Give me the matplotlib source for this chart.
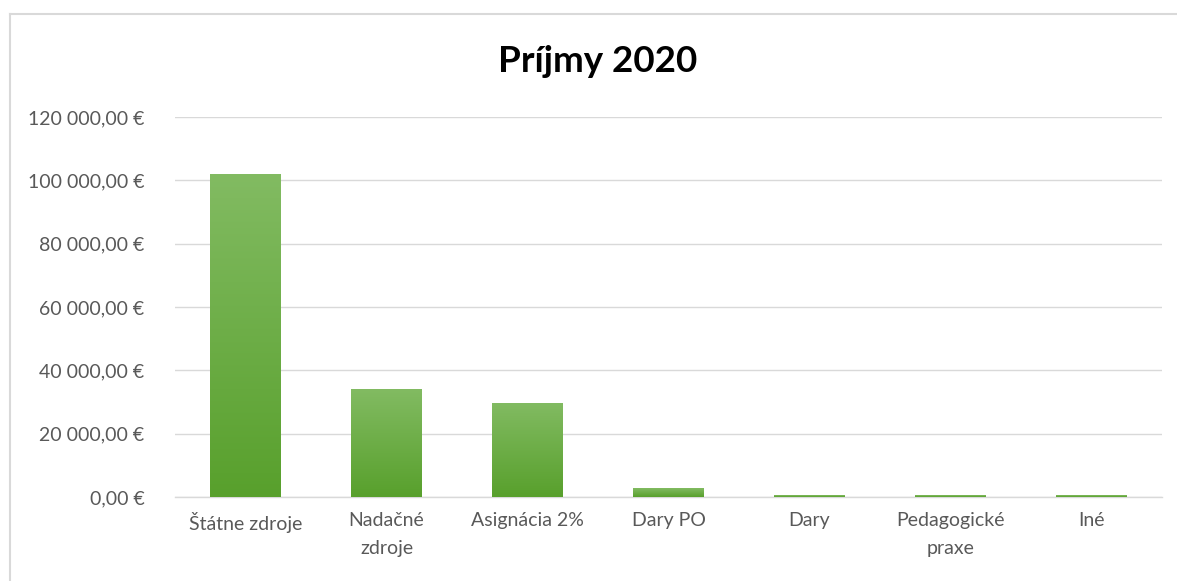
import matplotlib
matplotlib.use("Agg")
import matplotlib.pyplot as plt
import numpy as np
from matplotlib.colors import LinearSegmentedColormap
from matplotlib.lines import Line2D
from matplotlib.ticker import FuncFormatter

categories = ["Štátne zdroje", "Nadačné\nzdroje", "Asignácia 2%", "Dary PO",
              "Dary", "Pedagogické\npraxe", "Iné"]
values = [101900, 34100, 29700, 2700, 600, 550, 550]
y_ticks = [0, 20000, 40000, 60000, 80000, 100000, 120000]

plt.rcParams["font.family"] = ["Lato", "DejaVu Sans"]


def euro(value, _pos=None):
    whole = f"{value:,.2f}".replace(",", " ").replace(".", ",")
    return f"{whole} €"


fig = plt.figure(figsize=(11.77, 5.81), dpi=100)
ax = fig.add_axes([175 / 1177, 1 - 497 / 581, (1162 - 175) / 1177, (497 - 117) / 581])

x = np.arange(len(categories))
bars = ax.bar(x, values, width=0.5, color="#6aad45", zorder=3)

# Excel-style vertical gradient inside each bar
gradient = LinearSegmentedColormap.from_list("bar", ["#58a02c", "#82bb62"])
grad_img = np.linspace(0, 1, 256).reshape(-1, 1)
for bar in bars:
    x0, w, h = bar.get_x(), bar.get_width(), bar.get_height()
    img = ax.imshow(grad_img, cmap=gradient, origin="lower", aspect="auto",
                    extent=(x0, x0 + w, 0, h), zorder=4)
    img.set_clip_path(bar)

ax.set_xlim(-0.5, len(categories) - 0.5)
ax.set_ylim(0, 120000)
ax.set_yticks(y_ticks)
ax.yaxis.set_major_formatter(FuncFormatter(euro))
ax.set_xticks(x)
ax.set_xticklabels(categories, linespacing=1.75)
ax.tick_params(axis="both", length=0, labelsize=14, colors="#595959")
ax.tick_params(axis="y", pad=22)
ax.tick_params(axis="x", pad=11)
ax.grid(axis="y", color="#d9d9d9", linewidth=1.0, zorder=0)
for side in ("top", "right", "left"):
    ax.spines[side].set_visible(False)
ax.spines["bottom"].set_color("#d9d9d9")
ax.spines["bottom"].set_linewidth(1.0)

fig.text(598 / 1177, 1 - 62 / 581, "Príjmy 2020", ha="center", va="center",
         fontsize=26.5, fontweight="bold", color="black")

# chart frame: only the top and left edges are inside the screenshot
frame_x = 9.5 / 1177
frame_y = 1 - 13.5 / 581
fig.add_artist(Line2D([frame_x, 1.0], [frame_y, frame_y], transform=fig.transFigure,
                      color="#d9d9d9", linewidth=1.5))
fig.add_artist(Line2D([frame_x, frame_x], [0.0, frame_y], transform=fig.transFigure,
                      color="#d9d9d9", linewidth=1.5))

fig.savefig("out.png", dpi=100)
